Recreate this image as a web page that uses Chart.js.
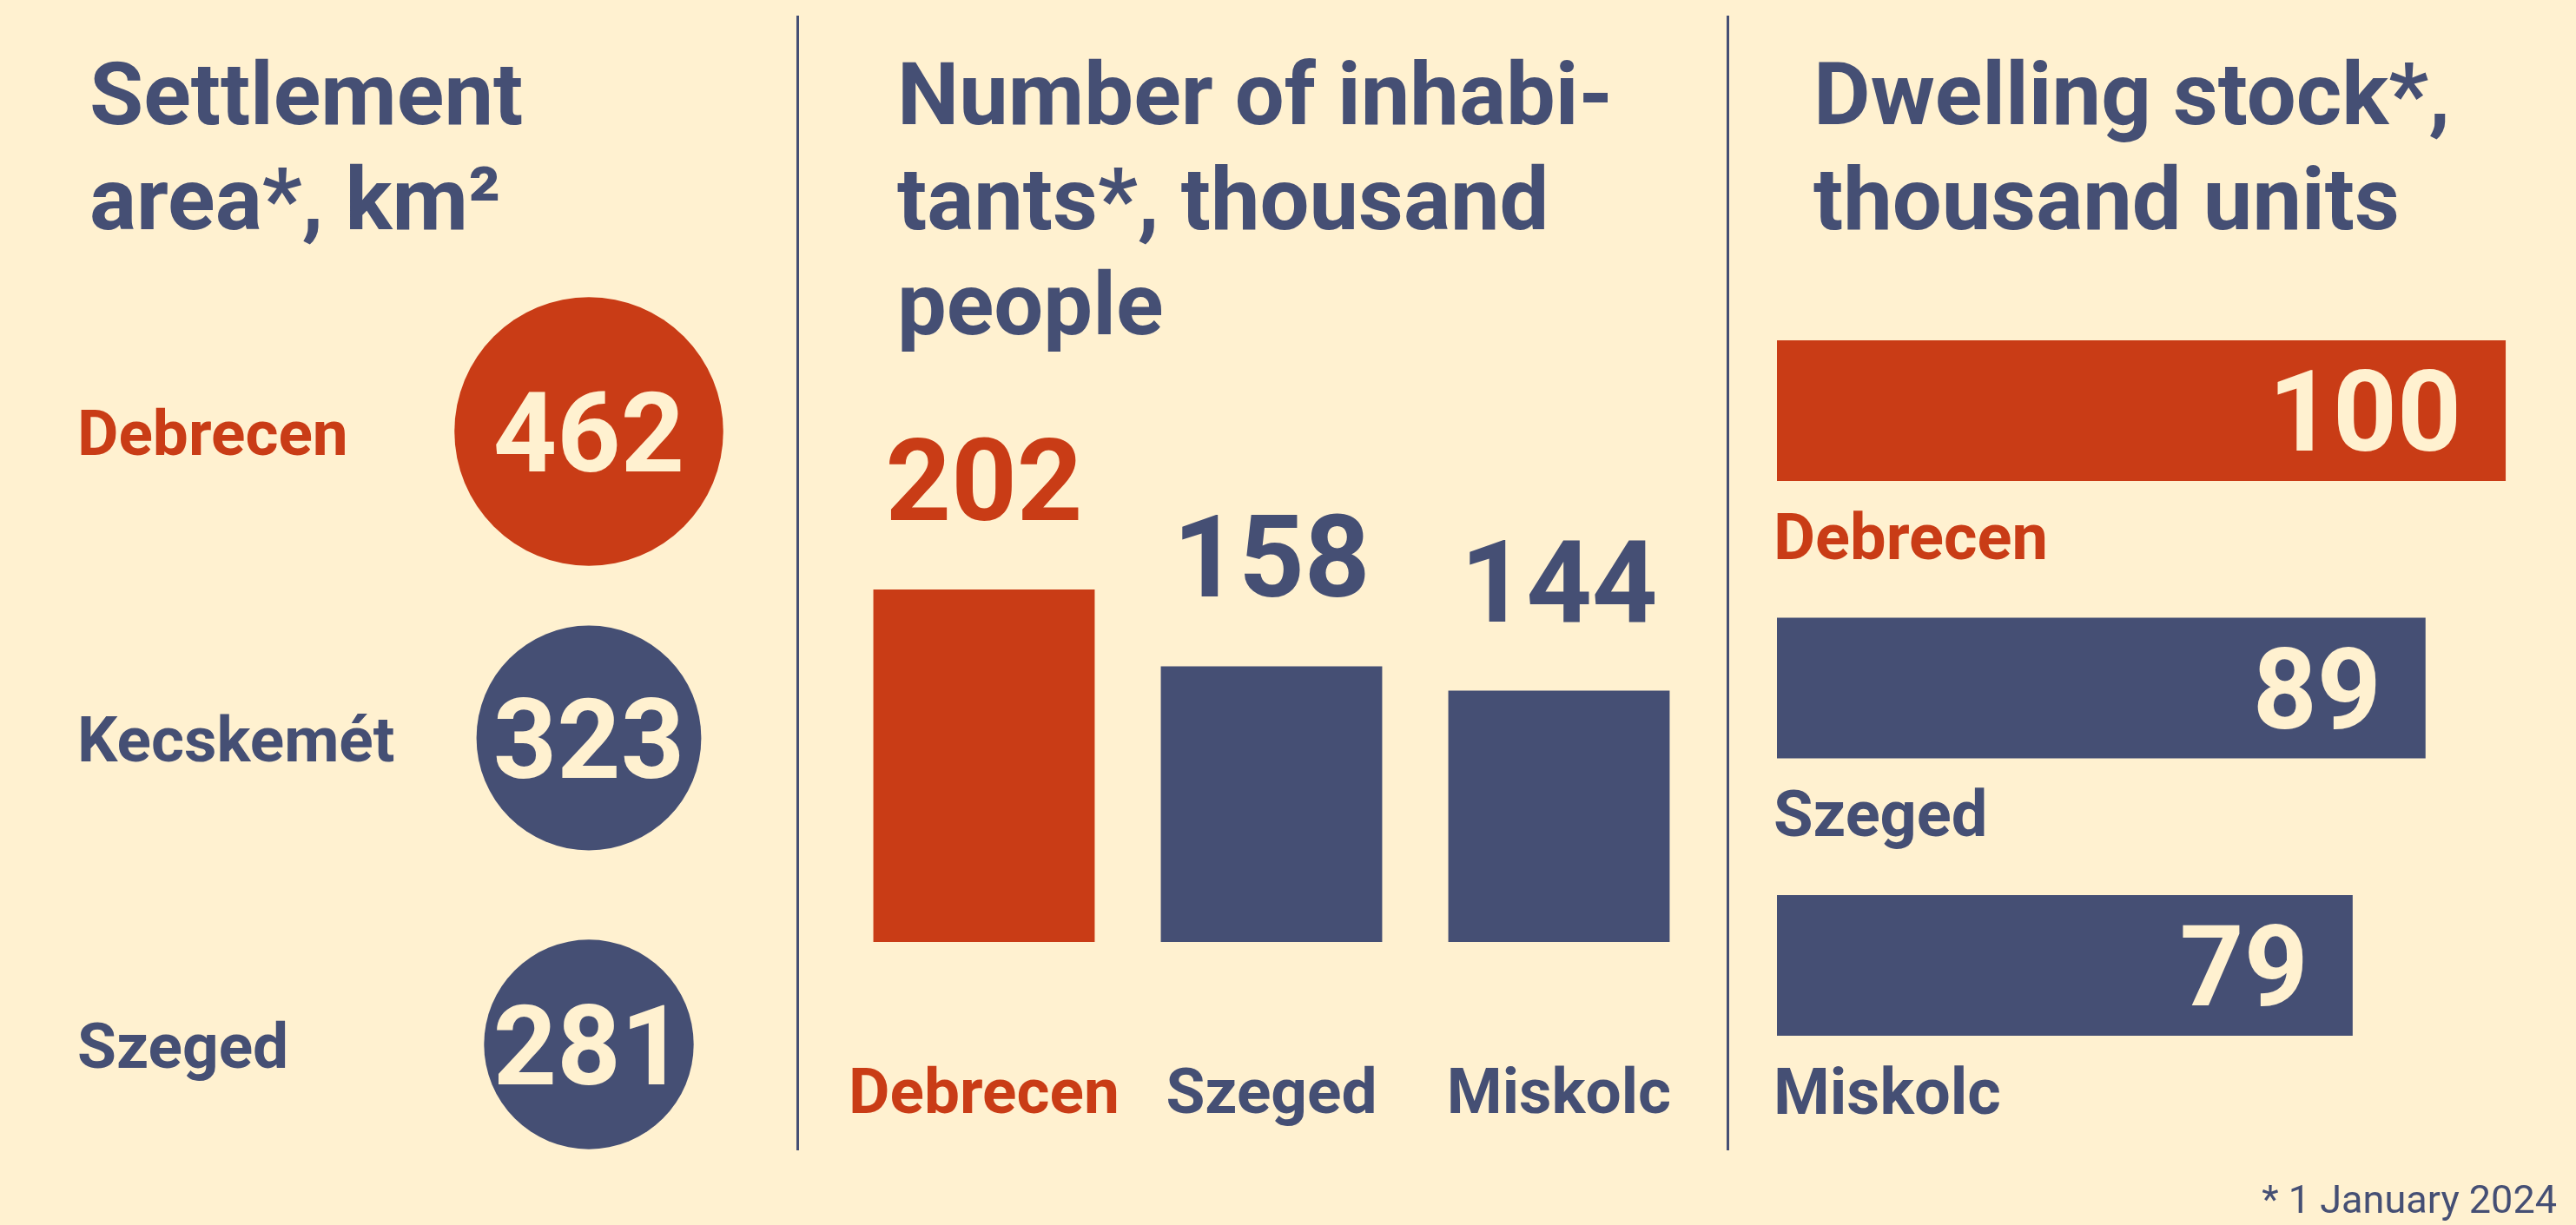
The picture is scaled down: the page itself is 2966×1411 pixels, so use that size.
<!DOCTYPE html>
<html lang="en">
<head>
<meta charset="UTF-8">
<title>Debrecen, Szeged, Miskolc, Kecskemét</title>
<script src="https://cdn.jsdelivr.net/npm/chart.js"></script>
<style>
  body { margin: 0; background: #FFF1D0; width: 2966px; height: 1411px; overflow: hidden; position: relative; font-family: Roboto, sans-serif; color: #454F74; }
  .title { position: absolute; top: 48px; margin: 0; font-size: 101px; font-weight: 700; line-height: 121px; white-space: nowrap; }
  .divider { position: absolute; top: 18px; height: 1307px; width: 3px; background: #454F74; }
  canvas { position: absolute; top: 0; }
  .note { position: absolute; right: 22px; top: 1359px; font-size: 45px; line-height: 45px; }
</style>
</head>
<body>
  <h2 class="title" style="left:103px">Settlement<br>area*, km²</h2>
  <h2 class="title" style="left:1033px">Number of inhabi-<br>tants*, thousand<br>people</h2>
  <h2 class="title" style="left:2088px">Dwelling stock*,<br>thousand units</h2>
  <div class="divider" style="left:917px"></div>
  <div class="divider" style="left:1988px"></div>

  <canvas id="areaChart" width="918" height="1411" style="left:0"></canvas>
  <canvas id="popChart" width="1068" height="1411" style="left:920px"></canvas>
  <canvas id="dwellChart" width="975" height="1411" style="left:1991px"></canvas>

  <div class="note">* 1 January 2024</div>

<script>
  // dades
  const areaCities = ['Debrecen', 'Kecskemét', 'Szeged'];
  const areaValues = [462, 323, 281];

  const popCities = ['Debrecen', 'Szeged', 'Miskolc'];
  const popValues = [202, 158, 144];

  const dwellCities = ['Debrecen', 'Szeged', 'Miskolc'];
  const dwellValues = [100, 89, 79];

  const ORANGE = '#C93C16';
  const NAVY = '#454F74';
  const CREAM = '#FFF1D0';
  const colorFor = city => city === 'Debrecen' ? ORANGE : NAVY;

  const FONT = 'Roboto, sans-serif';

  const common = {
    responsive: false,
    animation: false,
    events: [],
    plugins: { legend: { display: false }, tooltip: { enabled: false } }
  };

  // 1) settlement area - circles sized by area
  const areaLabels = {
    id: 'areaLabels',
    afterDatasetsDraw(chart) {
      const ctx = chart.ctx;
      const points = chart.getDatasetMeta(0).data;
      ctx.save();
      points.forEach((pt, i) => {
        ctx.textBaseline = 'alphabetic';
        ctx.fillStyle = CREAM;
        ctx.textAlign = 'center';
        ctx.font = `700 128px ${FONT}`;
        ctx.fillText(areaValues[i], pt.x, pt.y + 46);

        ctx.fillStyle = colorFor(areaCities[i]);
        ctx.textAlign = 'left';
        ctx.font = `700 73px ${FONT}`;
        ctx.fillText(areaCities[i], 89, pt.y + 27);
      });
      ctx.restore();
    }
  };

  new Chart(document.getElementById('areaChart'), {
    type: 'bubble',
    data: {
      datasets: [{
        data: areaValues.map((v, i) => ({ x: 0, y: areaCities[i], r: Math.sqrt(v) * 7.2 })),
        backgroundColor: areaCities.map(colorFor),
        borderWidth: 0,
        clip: false
      }]
    },
    options: {
      ...common,
      layout: { autoPadding: false, padding: { left: 440, right: 2, top: 320.5, bottom: 31.5 } },
      scales: {
        x: { type: 'linear', min: -1, max: 1, display: false },
        y: { type: 'category', labels: areaCities, offset: true, display: false }
      }
    },
    plugins: [areaLabels]
  });

  // 2) inhabitants - vertical bars
  const popLabels = {
    id: 'popLabels',
    afterDatasetsDraw(chart) {
      const ctx = chart.ctx;
      const bars = chart.getDatasetMeta(0).data;
      ctx.save();
      ctx.textAlign = 'center';
      ctx.textBaseline = 'alphabetic';
      bars.forEach((bar, i) => {
        ctx.fillStyle = colorFor(popCities[i]);
        ctx.font = `700 132px ${FONT}`;
        ctx.fillText(popValues[i], bar.x, bar.y - 80);
        ctx.font = `700 73px ${FONT}`;
        ctx.fillText(popCities[i], bar.x, chart.chartArea.bottom + 197);
      });
      ctx.restore();
    }
  };

  new Chart(document.getElementById('popChart'), {
    type: 'bar',
    data: {
      labels: popCities,
      datasets: [{
        data: popValues,
        backgroundColor: popCities.map(colorFor),
        barPercentage: 0.77,
        categoryPercentage: 1
      }]
    },
    options: {
      ...common,
      layout: { padding: { left: 47.5, right: 27.5, top: 582.5, bottom: 326 } },
      scales: {
        x: { display: false },
        y: { min: 0, max: 250, display: false }
      }
    },
    plugins: [popLabels]
  });

  // 3) dwelling stock - horizontal bars
  const dwellLabels = {
    id: 'dwellLabels',
    afterDatasetsDraw(chart) {
      const ctx = chart.ctx;
      const bars = chart.getDatasetMeta(0).data;
      ctx.save();
      ctx.textBaseline = 'alphabetic';
      bars.forEach((bar, i) => {
        ctx.fillStyle = CREAM;
        ctx.textAlign = 'right';
        ctx.font = `700 129px ${FONT}`;
        ctx.fillText(dwellValues[i], bar.x - 51, bar.y + 46);

        ctx.fillStyle = colorFor(dwellCities[i]);
        ctx.textAlign = 'left';
        ctx.font = `700 74px ${FONT}`;
        ctx.fillText(dwellCities[i], bar.base - 4, bar.y + bar.height / 2 + 90);
      });
      ctx.restore();
    }
  };

  new Chart(document.getElementById('dwellChart'), {
    type: 'bar',
    data: {
      labels: dwellCities,
      datasets: [{
        data: dwellValues,
        backgroundColor: dwellCities.map(colorFor),
        barPercentage: 0.507,
        categoryPercentage: 1
      }]
    },
    options: {
      ...common,
      indexAxis: 'y',
      layout: { padding: { left: 55, right: 39, top: 313.25, bottom: 139.25 } },
      scales: {
        x: { min: 0, max: 105, display: false },
        y: { display: false }
      }
    },
    plugins: [dwellLabels]
  });
</script>
</body>
</html>
